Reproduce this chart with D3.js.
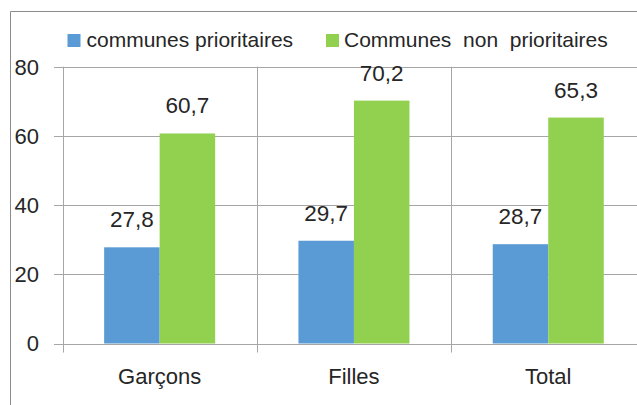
<!DOCTYPE html>
<html>
<head>
<meta charset="utf-8">
<script src="https://cdn.jsdelivr.net/npm/d3@7"></script>
<style>
  html, body { margin: 0; padding: 0; background: #fff; }
  svg text { font-family: "Liberation Sans", Arial, sans-serif; fill: #262626; white-space: pre; }
</style>
</head>
<body>
<div id="chart"></div>
<script>
// data
const categories = ["Garçons", "Filles", "Total"];
const seriesNames = ["communes prioritaires", "Communes  non  prioritaires"];
const prioritaires = [27.8, 29.7, 28.7];
const nonPrioritaires = [60.7, 70.2, 65.3];
const yTicks = [0, 20, 40, 60, 80];
const seriesColors = ["#5B9BD5", "#92D050"];

const width = 637, height = 405;
const plot = { left: 62.5, top: 66.7, bottom: 343.5, step: 194.3 };
const gridColor = "#a6a6a6";

const svg = d3.select("#chart").append("svg")
  .attr("width", width)
  .attr("height", height);

// outer frame (only left and top edges are visible in the crop)
svg.append("path")
  .attr("d", `M10.5,${height} V11.5 H${width}`)
  .attr("fill", "none")
  .attr("stroke", "#8c8c8c")
  .attr("stroke-width", 1);

const rows = categories.map((c, i) => ({
  cat: c,
  values: [
    { key: seriesNames[0], v: prioritaires[i], s: 0 },
    { key: seriesNames[1], v: nonPrioritaires[i], s: 1 }
  ]
}));

const x0 = d3.scaleBand()
  .domain(categories)
  .range([plot.left, plot.left + plot.step * categories.length])
  .paddingInner(0)
  .paddingOuter(0);

const x1 = d3.scaleBand()
  .domain(seriesNames)
  .range([0, x0.bandwidth()])
  .paddingInner(0)
  .paddingOuter(0.75);

const y = d3.scaleLinear()
  .domain([0, 80])
  .range([plot.bottom, plot.top]);

// horizontal gridlines + y tick labels
const yAxis = svg.append("g");
yAxis.selectAll("line")
  .data(yTicks)
  .enter()
  .append("line")
  .attr("x1", plot.left - 8.5)
  .attr("x2", width)
  .attr("y1", d => Math.round(y(d)) + 0.5)
  .attr("y2", d => Math.round(y(d)) + 0.5)
  .attr("stroke", gridColor)
  .attr("stroke-width", 1);

yAxis.selectAll("text")
  .data(yTicks)
  .enter()
  .append("text")
  .attr("x", 39)
  .attr("y", d => y(d))
  .attr("dy", "0.36em")
  .attr("text-anchor", "end")
  .attr("font-size", 22)
  .text(d => d);

// vertical gridlines at category boundaries (with tick below axis)
const bounds = categories.map(c => x0(c)).concat([x0.range()[1]]);
svg.append("g").selectAll("line")
  .data(bounds)
  .enter()
  .append("line")
  .attr("x1", d => Math.round(d) + 0.5)
  .attr("x2", d => Math.round(d) + 0.5)
  .attr("y1", y(80))
  .attr("y2", y(0) + 9)
  .attr("stroke", gridColor)
  .attr("stroke-width", 1);

// bars
const groups = svg.append("g").selectAll("g")
  .data(rows)
  .enter()
  .append("g")
  .attr("transform", d => `translate(${x0(d.cat)},0)`);

groups.selectAll("rect")
  .data(d => d.values)
  .enter()
  .append("rect")
  .attr("x", d => x1(d.key))
  .attr("y", d => y(d.v))
  .attr("width", x1.bandwidth())
  .attr("height", d => y(0) - y(d.v))
  .attr("fill", d => seriesColors[d.s]);

// value labels
const fmt = v => d3.format(".1f")(v).replace(".", ",");
groups.selectAll("text")
  .data(d => d.values)
  .enter()
  .append("text")
  .attr("x", d => x1(d.key) + x1.bandwidth() / 2)
  .attr("y", d => y(d.v) - 20)
  .attr("text-anchor", "middle")
  .attr("font-size", 22.5)
  .text(d => fmt(d.v));

// category labels
svg.append("g").selectAll("text")
  .data(categories)
  .enter()
  .append("text")
  .attr("x", d => x0(d) + x0.bandwidth() / 2)
  .attr("y", 384)
  .attr("text-anchor", "middle")
  .attr("font-size", 22)
  .text(d => d);

// legend
const legendX = [67.5, 326];
const legend = svg.append("g").selectAll("g")
  .data(seriesNames)
  .enter()
  .append("g")
  .attr("transform", (d, i) => `translate(${legendX[i]},34)`);

legend.append("rect")
  .attr("width", 13)
  .attr("height", 13)
  .attr("fill", (d, i) => seriesColors[i]);

legend.append("text")
  .attr("x", (d, i) => i === 0 ? 19 : 18)
  .attr("y", 13.3)
  .attr("font-size", 21)
  .text(d => d);
</script>
</body>
</html>
